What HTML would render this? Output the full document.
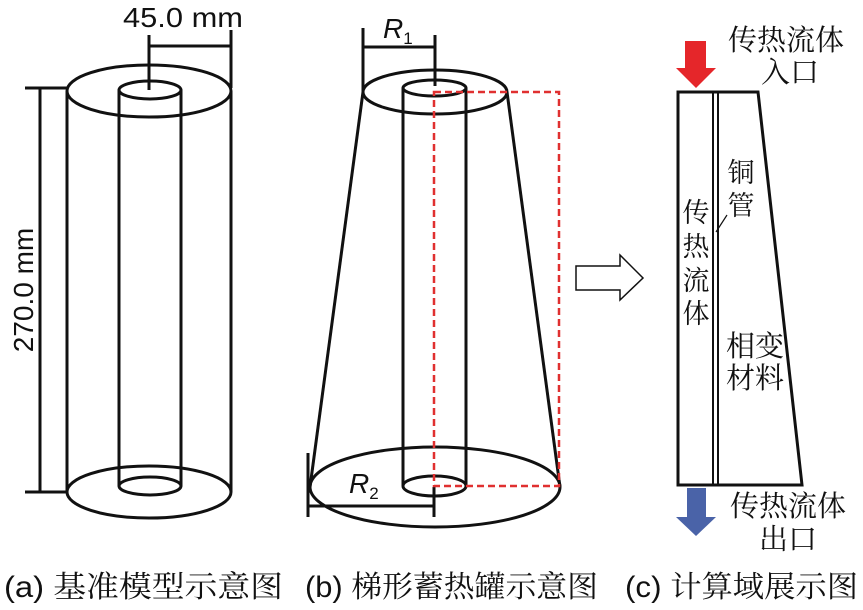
<!DOCTYPE html>
<html><head><meta charset="utf-8"><style>
body{margin:0;background:#fff;width:863px;height:610px;overflow:hidden}
svg{display:block}
.t{font-family:"Liberation Sans","Noto Serif CJK SC",serif;fill:#111}
.c{font-family:"Noto Serif CJK SC","Noto Sans CJK SC",serif;fill:#111}
</style></head><body>
<svg width="863" height="610" viewBox="0 0 863 610" xmlns="http://www.w3.org/2000/svg">
<g fill="none" stroke="#111" stroke-width="3">
<ellipse cx="149" cy="91" rx="82" ry="26"/>
<ellipse cx="150" cy="90" rx="31" ry="9"/>
<line x1="67" y1="91" x2="67" y2="492"/>
<line x1="231" y1="91" x2="231" y2="492"/>
<path d="M67 492 A82 26 0 0 0 231 492 A82 26 0 0 0 67 492"/>
<line x1="119" y1="90" x2="119" y2="486"/>
<line x1="181" y1="90" x2="181" y2="486"/>
<ellipse cx="150" cy="486" rx="31" ry="9"/>
<line x1="149" y1="35" x2="149" y2="90"/>
<line x1="231" y1="30" x2="231" y2="88"/>
<line x1="149" y1="46" x2="231" y2="46"/>
<line x1="40" y1="88" x2="40" y2="492"/>
<line x1="25" y1="88" x2="67" y2="88"/>
<line x1="25" y1="492" x2="67" y2="492"/>
<ellipse cx="435" cy="92" rx="72" ry="22"/>
<ellipse cx="434.5" cy="88" rx="31.5" ry="8"/>
<line x1="403" y1="88" x2="403" y2="486"/>
<line x1="466" y1="88" x2="466" y2="486"/>
<ellipse cx="434.5" cy="486" rx="31.5" ry="10"/>
<ellipse cx="435" cy="487" rx="125" ry="40"/>
<line x1="363" y1="92" x2="310" y2="487"/>
<line x1="507" y1="92" x2="560" y2="487"/>
<line x1="363" y1="28" x2="363" y2="92"/>
<line x1="435" y1="35" x2="435" y2="86"/>
<line x1="363" y1="47" x2="435" y2="47"/>
<line x1="308" y1="453" x2="308" y2="517"/>
<line x1="434" y1="487" x2="434" y2="517"/>
<line x1="308" y1="506" x2="434" y2="506"/>
</g>
<path d="M434 92 H559 V486 H434 Z" fill="none" stroke="#e03030" stroke-width="2.5" stroke-dasharray="7,4"/>
<path d="M576 266 H620 V255 L643 278 L620 300 V290 H576 Z" fill="#fff" stroke="#111" stroke-width="1.5"/>
<g fill="none" stroke="#111" stroke-width="3">
<path d="M678 92 H758 L802 485 H678 Z"/>
<line x1="713" y1="92" x2="713" y2="485" stroke-width="2"/>
<line x1="718" y1="92" x2="718" y2="485" stroke-width="2"/>
</g>
<line x1="727" y1="215" x2="716" y2="232" stroke="#111" stroke-width="1.2"/>
<path d="M685 41 H706 V68 H716 L696 88 L676 68 H685 Z" fill="#e5262a"/>
<path d="M687 488 H706 V517 H716 L696 536 L676 517 H687 Z" fill="#4a63a8"/>
<text class="t" x="123" y="27" font-size="28" textLength="120" lengthAdjust="spacingAndGlyphs">45.0 mm</text>
<text class="t" x="0" y="0" font-size="28" text-anchor="middle" transform="translate(33,290) rotate(-90)">270.0 mm</text>
<text class="t" x="383" y="38" font-size="28" font-style="italic">R<tspan font-size="17" font-style="normal" dy="6">1</tspan></text>
<text class="t" x="349" y="493" font-size="28" font-style="italic">R<tspan font-size="17" font-style="normal" dy="6">2</tspan></text>
<text class="c" x="786" y="50" font-size="29" text-anchor="middle">传热流体</text>
<text class="c" x="790" y="82" font-size="29" text-anchor="middle">入口</text>
<text class="c" x="788" y="516" font-size="29" text-anchor="middle">传热流体</text>
<text class="c" x="788" y="549" font-size="29" text-anchor="middle">出口</text>
<text class="c" x="741" y="182" font-size="27" text-anchor="middle">铜</text>
<text class="c" x="741" y="215" font-size="27" text-anchor="middle">管</text>
<text class="c" x="696" y="222" font-size="27" text-anchor="middle">传</text>
<text class="c" x="696" y="256" font-size="27" text-anchor="middle">热</text>
<text class="c" x="696" y="290" font-size="27" text-anchor="middle">流</text>
<text class="c" x="696" y="323" font-size="27" text-anchor="middle">体</text>
<text class="c" x="755" y="356" font-size="29" text-anchor="middle">相变</text>
<text class="c" x="755" y="388" font-size="29" text-anchor="middle">材料</text>
<text class="t" x="4" y="597" font-size="30" textLength="279" lengthAdjust="spacingAndGlyphs">(a) <tspan class="c">基准模型示意图</tspan></text>
<text class="t" x="305" y="597" font-size="30" textLength="293" lengthAdjust="spacingAndGlyphs">(b) <tspan class="c">梯形蓄热罐示意图</tspan></text>
<text class="t" x="625" y="597" font-size="30" textLength="233" lengthAdjust="spacingAndGlyphs">(c) <tspan class="c">计算域展示图</tspan></text>
</svg>
</body></html>
